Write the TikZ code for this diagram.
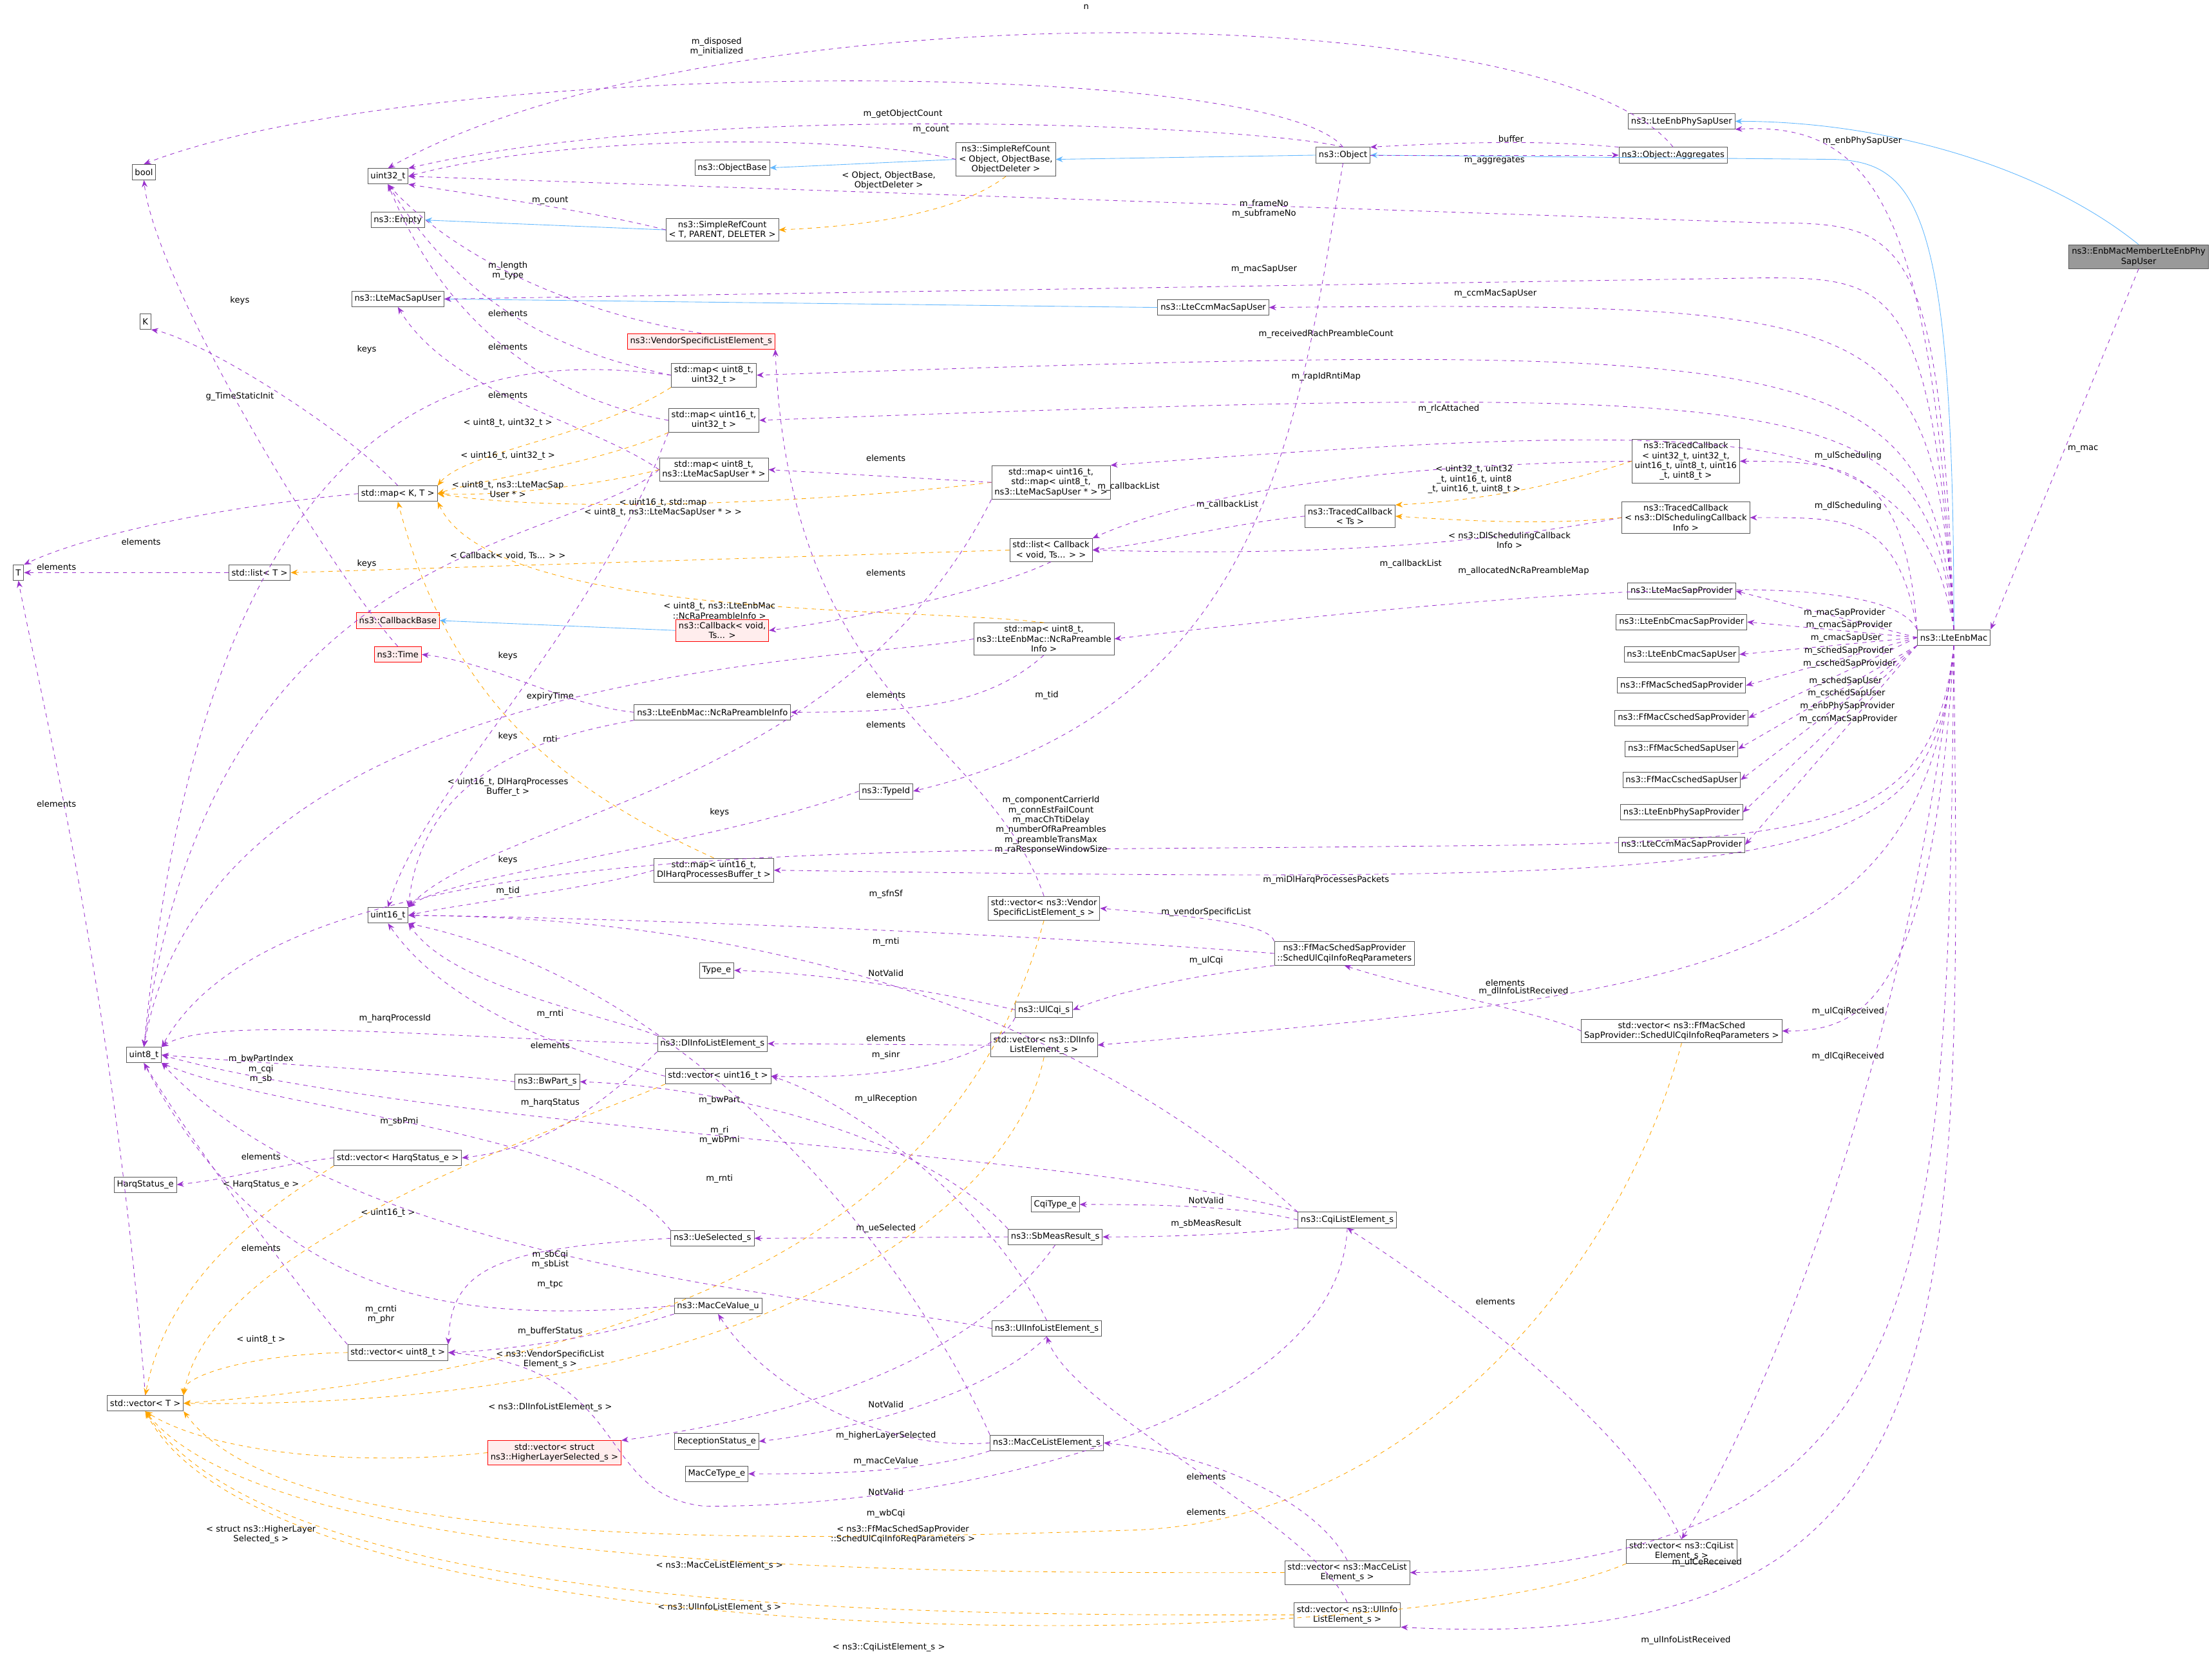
\documentclass[tikz,border=0pt]{standalone}
\usepackage{fontspec}
\setmainfont{DejaVu Sans}
\usetikzlibrary{arrows.meta}
\definecolor{pur}{HTML}{9A32CD}
\definecolor{org}{HTML}{FFA500}
\definecolor{blu}{HTML}{63B8FF}
\tikzset{
 box/.style={draw=black!65,fill=white,font=\fontsize{6}{7}\selectfont,align=center,inner sep=2pt,minimum height=11pt},
 redbox/.style={box,draw=red,fill=red!7},
 greybox/.style={box,fill=black!40},
 lbl/.style={font=\fontsize{6}{7}\selectfont,align=center,inner sep=0pt},
 pe/.style={draw=pur,dashed,-{Stealth[length=5pt,width=4pt]}},
 oe/.style={draw=org,dashed,-{Stealth[length=5pt,width=4pt]}},
 be/.style={draw=blu,-{Stealth[length=5pt,width=4pt]}},
}
\begin{document}
\begin{tikzpicture}[x=1pt,y=-1pt]
\useasboundingbox (0,0) rectangle (1568,1184);
% nodes
\node[greybox] (mem) at (1516,182) {ns3::EnbMacMemberLteEnbPhy\\SapUser};
\node[box] (mac) at (1385,452) {ns3::LteEnbMac};
\node[box] (physu) at (1192,86) {ns3::LteEnbPhySapUser};
\node[box] (obj) at (952,110) {ns3::Object};
\node[box] (agg) at (1186,110) {ns3::Object::Aggregates};
\node[box] (src) at (713,113) {ns3::SimpleRefCount\\< Object, ObjectBase,\\ObjectDeleter >};
\node[box] (objb) at (519,119) {ns3::ObjectBase};
\node[box] (u32) at (275,125) {uint32\_t};
\node[box] (bool) at (102,122) {bool};
\node[box] (empty) at (282,156) {ns3::Empty};
\node[box] (srct) at (512,163) {ns3::SimpleRefCount\\< T, PARENT, DELETER >};
\node[box] (msu) at (282,212) {ns3::LteMacSapUser};
\node[box] (ccmsu) at (860,218) {ns3::LteCcmMacSapUser};
\node[box] (K) at (103,228) {K};
\node[redbox] (vsle) at (497,242) {ns3::VendorSpecificListElement\_s};
\node[box] (m832) at (506,266) {std::map< uint8\_t,\\uint32\_t >};
\node[box] (m1632) at (506,298) {std::map< uint16\_t,\\uint32\_t >};
\node[box] (m8sap) at (506,333) {std::map< uint8\_t,\\ns3::LteMacSapUser * >};
\node[box] (mkt) at (282,350) {std::map< K, T >};
\node[box] (m16map) at (745,342) {std::map< uint16\_t,\\std::map< uint8\_t,\\ns3::LteMacSapUser * > >};
\node[box] (tcu) at (1195,327) {ns3::TracedCallback\\< uint32\_t, uint32\_t,\\uint16\_t, uint8\_t, uint16\\\_t, uint8\_t >};
\node[box] (tcts) at (957,366) {ns3::TracedCallback\\< Ts >};
\node[box] (tcdl) at (1195,367) {ns3::TracedCallback\\< ns3::DlSchedulingCallback\\Info >};
\node[box] (lcb) at (745,390) {std::list< Callback\\< void, Ts... > >};
\node[box] (T) at (13,406) {T};
\node[box] (lt) at (184,406) {std::list< T >};
\node[redbox] (cbb) at (282,440) {ns3::CallbackBase};
\node[redbox] (cbv) at (512,447) {ns3::Callback< void,\\Ts... >};
\node[box] (mnc) at (740,453) {std::map< uint8\_t,\\ns3::LteEnbMac::NcRaPreamble\\Info >};
\node[redbox] (time) at (282,464) {ns3::Time};
\node[box] (ncinfo) at (505,505) {ns3::LteEnbMac::NcRaPreambleInfo};
\node[box] (tid) at (628,561) {ns3::TypeId};
\node[box] (mharq) at (506,617) {std::map< uint16\_t,\\DlHarqProcessesBuffer\_t >};
\node[box] (u16) at (275,649) {uint16\_t};
\node[box] (vvs) at (740,644) {std::vector< ns3::Vendor\\SpecificListElement\_s >};
\node[box] (sucqi) at (953,676) {ns3::FfMacSchedSapProvider\\::SchedUlCqiInfoReqParameters};
\node[box] (type) at (508,688) {Type\_e};
\node[box] (ulcqi) at (740,716) {ns3::UlCqi\_s};
\node[box] (dlinfo) at (505,740) {ns3::DlInfoListElement\_s};
\node[box] (vdl) at (740,741) {std::vector< ns3::DlInfo\\ListElement\_s >};
\node[box] (u8) at (102,748) {uint8\_t};
\node[box] (v16) at (509,763) {std::vector< uint16\_t >};
\node[box] (bw) at (388,767) {ns3::BwPart\_s};
\node[box] (vharq) at (282,821) {std::vector< HarqStatus\_e >};
\node[box] (harq) at (103,840) {HarqStatus\_e};
\node[box] (cqit) at (748,854) {CqiType\_e};
\node[box] (cqil) at (955,865) {ns3::CqiListElement\_s};
\node[box] (sbm) at (748,877) {ns3::SbMeasResult\_s};
\node[box] (ues) at (505,878) {ns3::UeSelected\_s};
\node[box] (mcv) at (509,926) {ns3::MacCeValue\_u};
\node[box] (uil) at (742,942) {ns3::UlInfoListElement\_s};
\node[box] (v8) at (282,959) {std::vector< uint8\_t >};
\node[box] (vt) at (103,995) {std::vector< T >};
\node[box] (rst) at (508,1022) {ReceptionStatus\_e};
\node[redbox] (vhl) at (393,1030) {std::vector< struct\\ns3::HigherLayerSelected\_s >};
\node[box] (mcl) at (742,1023) {ns3::MacCeListElement\_s};
\node[box] (mct) at (508,1045) {MacCeType\_e};
\node[box] (vcqi) at (1192,1100) {std::vector< ns3::CqiList\\Element\_s >};
\node[box] (vmcl) at (955,1115) {std::vector< ns3::MacCeList\\Element\_s >};
\node[box] (vuil) at (955,1145) {std::vector< ns3::UlInfo\\ListElement\_s >};
\node[box] (vsu) at (1192,731) {std::vector< ns3::FfMacSched\\SapProvider::SchedUlCqiInfoReqParameters >};
\node[box] (p1) at (1192,419) {ns3::LteMacSapProvider};
\node[box] (p2) at (1192,441) {ns3::LteEnbCmacSapProvider};
\node[box] (p3) at (1192,464) {ns3::LteEnbCmacSapUser};
\node[box] (p4) at (1192,486) {ns3::FfMacSchedSapProvider};
\node[box] (p5) at (1192,509) {ns3::FfMacCschedSapProvider};
\node[box] (p6) at (1192,531) {ns3::FfMacSchedSapUser};
\node[box] (p7) at (1192,553) {ns3::FfMacCschedSapUser};
\node[box] (p8) at (1192,576) {ns3::LteEnbPhySapProvider};
\node[box] (p9) at (1192,599) {ns3::LteCcmMacSapProvider};

% blue inheritance
\draw[be] (mem.north) .. controls (1450,120) and (1340,86) .. (physu.east);
\draw[be] (mac.north) .. controls (1385,150) and (1360,115) .. (1300,113) -- (obj.east);
\draw[be] (obj.west) -- (src.east);
\draw[be] (src.west) -- (objb.east);
\draw[be] (srct.west) -- (empty.east);
\draw[be] (ccmsu.west) -- (msu.east);
\draw[be] (cbv.west) -- (cbb.east);

% mac purple edges
\draw[pe] (mem.south) -- node[lbl,pos=0.5,right=2pt]{m\_mac} (mac.north east);
\draw[pe] (mac.north) .. controls (1370,150) and (1330,86) .. (physu.south east);
\node[lbl] at (1320,100) {m\_enbPhySapUser};
\draw[pe] (mac.north) .. controls (1375,160) and (1350,158) .. (1250,158) -- (u32.east);
\node[lbl] at (896,148) {m\_frameNo\\m\_subframeNo};
\draw[pe] (mac.north) .. controls (1370,200) and (1340,197) .. (1250,197) -- (msu.east);
\node[lbl] at (896,191) {m\_macSapUser};
\draw[pe] (mac.north) .. controls (1370,220) and (1340,214) .. (ccmsu.east);
\node[lbl] at (1060,208) {m\_ccmMacSapUser};
\draw[pe] (mac.north) .. controls (1368,245) and (1300,240) .. (m832.east);
\node[lbl] at (940,237) {m\_receivedRachPreambleCount};
\draw[pe] (mac.north) .. controls (1365,275) and (1300,270) .. (m1632.east);
\node[lbl] at (940,267) {m\_rapIdRntiMap};
\draw[pe] (mac.north) .. controls (1360,300) and (1250,295) .. (m16map.north east);
\node[lbl] at (1027,290) {m\_rlcAttached};
\draw[pe] (mac.north west) .. controls (1350,330) and (1310,327) .. (tcu.east);
\node[lbl] at (1310,323) {m\_ulScheduling};
\draw[pe] (mac.north west) .. controls (1345,365) and (1310,367) .. (tcdl.east);
\node[lbl] at (1310,359) {m\_dlScheduling};
\draw[pe] (mac.north west) .. controls (1340,410) and (1200,405) .. (mnc.east);
\node[lbl] at (1080,405) {m\_allocatedNcRaPreambleMap};
\draw[pe] (mac.west) -- node[lbl,pos=0.4,above=1pt]{m\_macSapProvider} (p1.east);
\draw[pe] (mac.west) -- node[lbl,pos=0.4,above=1pt]{m\_cmacSapProvider} (p2.east);
\draw[pe] (mac.west) -- node[lbl,pos=0.4,above=1pt]{m\_cmacSapUser} (p3.east);
\draw[pe] (mac.west) -- node[lbl,pos=0.4,above=1pt]{m\_schedSapProvider} (p4.east);
\draw[pe] (mac.west) -- node[lbl,pos=0.4,above=1pt]{m\_cschedSapProvider} (p5.east);
\draw[pe] (mac.south west) -- node[lbl,pos=0.4,above=1pt]{m\_schedSapUser} (p6.east);
\draw[pe] (mac.south west) -- node[lbl,pos=0.4,above=1pt]{m\_cschedSapUser} (p7.east);
\draw[pe] (mac.south west) -- node[lbl,pos=0.4,above=1pt]{m\_enbPhySapProvider} (p8.east);
\draw[pe] (mac.south west) -- node[lbl,pos=0.4,above=1pt]{m\_ccmMacSapProvider} (p9.east);
\draw[pe] (mac.south) .. controls (1370,590) and (1300,598) .. (1000,600) .. controls (600,605) and (200,590) .. (u8.north east);
\node[lbl] at (745,585) {m\_componentCarrierId\\m\_connEstFailCount\\m\_macChTtiDelay\\m\_numberOfRaPreambles\\m\_preambleTransMax\\m\_raResponseWindowSize};
\draw[pe] (mac.south) .. controls (1370,620) and (1300,628) .. (mharq.east);
\node[lbl] at (940,624) {m\_miDlHarqProcessesPackets};
\draw[pe] (mac.south) .. controls (1365,690) and (1200,705) .. (vdl.east);
\node[lbl] at (1080,703) {m\_dlInfoListReceived};
\draw[pe] (mac.south) .. controls (1370,710) and (1320,731) .. (vsu.east);
\node[lbl] at (1310,717) {m\_ulCqiReceived};
\draw[pe] (mac.south) .. controls (1350,760) and (1250,1000) .. (vcqi.north);
\node[lbl] at (1310,749) {m\_dlCqiReceived};
\draw[pe] (mac.south) .. controls (1380,900) and (1380,1110) .. (vmcl.east);
\node[lbl] at (1210,1108) {m\_ulCeReceived};
\draw[pe] (mac.south) .. controls (1390,950) and (1400,1175) .. (vuil.south east);
\node[lbl] at (1195,1163) {m\_ulInfoListReceived};

% Object related
\draw[pe] (obj.north) .. controls (900,90) and (500,70) .. (u32.north east);
\node[lbl] at (640,81) {m\_getObjectCount};
\draw[pe] (src.west) .. controls (600,95) and (400,95) .. (u32.east);
\node[lbl] at (660,92) {m\_count};
\draw[pe] (srct.west) .. controls (420,150) and (350,140) .. (u32.south east);
\node[lbl] at (390,142) {m\_count};
\draw[oe] (src.south) .. controls (680,150) and (620,160) .. (srct.east);
\node[lbl] at (630,128) {< Object, ObjectBase,\\ObjectDeleter >};
\draw[pe] (obj.north) .. controls (900,40) and (300,40) .. (bool.north);
\node[lbl] at (508,33) {m\_disposed\\m\_initialized};
\draw[pe] (agg.north) .. controls (1100,-4) and (500,-8) .. (u32.north);
\node[lbl] at (770,5) {n};
\draw[pe] (obj.east) -- node[lbl,below=1pt]{m\_aggregates} (agg.west);
\draw[pe] (agg.north west) .. controls (1100,100) and (1050,100) .. node[lbl,above=0pt]{buffer} (obj.north east);
\draw[pe] (obj.south) .. controls (920,300) and (900,500) .. (tid.east);
\node[lbl] at (742,493) {m\_tid};
\draw[pe] (vsle.north) .. controls (400,220) and (320,180) .. (u32.south);
\node[lbl] at (360,192) {m\_length\\m\_type};

% maps
\draw[pe] (m832.west) .. controls (400,250) and (330,220) .. (u32.south);
\node[lbl] at (360,222) {elements};
\draw[pe] (m1632.west) .. controls (400,285) and (320,240) .. (u32.south);
\node[lbl] at (360,246) {elements};
\draw[pe] (m8sap.west) .. controls (420,300) and (320,280) .. (msu.south);
\node[lbl] at (360,280) {elements};
\draw[pe] (m832.west) .. controls (350,250) and (150,260) .. (u8.north);
\node[lbl] at (260,248) {keys};
\draw[pe] (m8sap.west) .. controls (400,390) and (150,380) .. (u8.north);
\node[lbl] at (260,400) {keys};
\draw[pe] (m1632.south west) .. controls (420,450) and (300,560) .. (u16.north);
\node[lbl] at (360,522) {keys};
\draw[oe] (m832.south west) .. controls (420,310) and (330,320) .. (mkt.north east);
\node[lbl] at (360,300) {< uint8\_t, uint32\_t >};
\draw[oe] (m1632.south west) .. controls (420,330) and (340,340) .. (mkt.east);
\node[lbl] at (360,323) {< uint16\_t, uint32\_t >};
\draw[oe] (m8sap.west) .. controls (420,345) and (350,352) .. (mkt.east);
\node[lbl] at (360,347) {< uint8\_t, ns3::LteMacSap\\User * >};
\draw[oe] (m16map.west) .. controls (600,355) and (400,365) .. (mkt.east);
\node[lbl] at (470,360) {< uint16\_t, std::map\\< uint8\_t, ns3::LteMacSapUser * > >};
\draw[oe] (mnc.north) .. controls (650,430) and (350,440) .. (mkt.south east);
\node[lbl] at (510,433) {< uint8\_t, ns3::LteEnbMac\\::NcRaPreambleInfo >};
\draw[oe] (mharq.north) .. controls (400,560) and (320,500) .. (mkt.south);
\node[lbl] at (360,558) {< uint16\_t, DlHarqProcesses\\Buffer\_t >};
\draw[pe] (mkt.north) .. controls (240,300) and (140,240) .. (K.south east);
\node[lbl] at (170,213) {keys};
\draw[pe] (mkt.west) .. controls (150,360) and (60,380) .. (T.north east);
\node[lbl] at (100,384) {elements};
\draw[pe] (lt.west) -- (T.east);
\node[lbl] at (40,402) {elements};
\draw[pe] (vt.north) .. controls (80,700) and (30,500) .. (T.south);
\node[lbl] at (40,570) {elements};
\draw[pe] (m16map.west) -- (m8sap.east);
\node[lbl] at (628,325) {elements};
\draw[pe] (m16map.south west) .. controls (600,560) and (350,580) .. (u16.north east);
\node[lbl] at (510,576) {keys};
\draw[oe] (lcb.west) -- (lt.east);
\node[lbl] at (360,394) {< Callback< void, Ts... > >};
\draw[pe] (lcb.south) .. controls (700,420) and (600,440) .. (cbv.east);
\node[lbl] at (628,406) {elements};
\draw[pe] (tcts.west) .. controls (880,370) and (820,385) .. (lcb.east);
\node[lbl] at (870,358) {m\_callbackList};
\draw[pe] (tcu.west) .. controls (900,330) and (800,370) .. (lcb.north east);
\node[lbl] at (800,345) {m\_callbackList};
\draw[pe] (tcdl.west) .. controls (1000,395) and (850,392) .. (lcb.east);
\node[lbl] at (1000,400) {m\_callbackList};
\draw[oe] (tcu.west) .. controls (1100,345) and (1050,355) .. (tcts.north east);
\node[lbl] at (1045,340) {< uint32\_t, uint32\\\_t, uint16\_t, uint8\\\_t, uint16\_t, uint8\_t >};
\draw[oe] (tcdl.west) .. controls (1100,372) and (1050,370) .. (tcts.east);
\node[lbl] at (1070,383) {< ns3::DlSchedulingCallback\\Info >};
\draw[pe] (time.north) .. controls (230,400) and (110,200) .. (bool.south);
\node[lbl] at (170,281) {g\_TimeStaticInit};
\draw[pe] (ncinfo.west) .. controls (400,500) and (350,470) .. (time.east);
\node[lbl] at (390,494) {expiryTime};
\draw[pe] (ncinfo.south west) .. controls (400,520) and (300,540) .. (u16.north east);
\node[lbl] at (390,524) {rnti};
\draw[pe] (mnc.south) .. controls (700,500) and (650,505) .. (ncinfo.east);
\node[lbl] at (628,493) {elements};
\draw[pe] (mnc.west) .. controls (600,470) and (150,470) .. (u8.north);
\node[lbl] at (360,465) {keys};
\draw[pe] (vvs.north) .. controls (700,520) and (560,500) .. (vsle.south east);
\node[lbl] at (628,514) {elements};
\draw[pe] (tid.west) .. controls (500,600) and (320,620) .. (u16.north east);
\node[lbl] at (360,632) {m\_tid};
\draw[pe] (mharq.west) .. controls (420,630) and (330,640) .. (u16.east);
\node[lbl] at (360,610) {keys};

% middle
\draw[oe] (vvs.south) .. controls (700,800) and (580,960) .. (vt.east);
\node[lbl] at (390,964) {< ns3::VendorSpecificList\\Element\_s >};
\draw[pe] (sucqi.north west) .. controls (900,655) and (850,650) .. (vvs.east);
\node[lbl] at (855,647) {m\_vendorSpecificList};
\draw[pe] (sucqi.west) .. controls (700,660) and (400,650) .. (u16.east);
\node[lbl] at (628,634) {m\_sfnSf};
\draw[pe] (sucqi.south west) .. controls (860,690) and (800,700) .. (ulcqi.east);
\node[lbl] at (855,681) {m\_ulCqi};
\draw[pe] (vsu.west) .. controls (1100,720) and (1000,700) .. (sucqi.south);
\node[lbl] at (1067,697) {elements};
\draw[oe] (vsu.south) .. controls (1150,900) and (1000,1080) .. (800,1085) .. controls (500,1095) and (200,1095) .. (vt.south east);
\node[lbl] at (640,1088) {< ns3::FfMacSchedSapProvider\\::SchedUlCqiInfoReqParameters >};
\draw[pe] (ulcqi.west) .. controls (650,700) and (580,690) .. (type.east);
\node[lbl] at (628,690) {NotValid};
\draw[pe] (ulcqi.south west) .. controls (700,760) and (600,765) .. (v16.east);
\node[lbl] at (628,748) {m\_sinr};
\draw[pe] (cqil.north west) .. controls (700,660) and (400,650) .. (u16.east);
\node[lbl] at (628,668) {m\_rnti};
\draw[pe] (vdl.west) -- (dlinfo.east);
\node[lbl] at (628,736) {elements};
\draw[oe] (vdl.south) .. controls (720,850) and (550,1000) .. (vt.east);
\node[lbl] at (390,998) {< ns3::DlInfoListElement\_s >};
\draw[pe] (dlinfo.north west) .. controls (430,720) and (320,700) .. (u16.south east);
\node[lbl] at (390,719) {m\_rnti};
\draw[pe] (dlinfo.west) .. controls (300,735) and (150,720) .. (u8.north east);
\node[lbl] at (280,722) {m\_harqProcessId};
\draw[pe] (v16.west) .. controls (420,750) and (320,720) .. (u16.south);
\node[lbl] at (390,741) {elements};
\draw[pe] (dlinfo.south west) .. controls (420,790) and (380,815) .. (vharq.east);
\node[lbl] at (390,782) {m\_harqStatus};
\draw[oe] (v16.south west) .. controls (400,800) and (150,880) .. (vt.north east);
\node[lbl] at (275,860) {< uint16\_t >};
\draw[pe] (bw.west) .. controls (300,760) and (200,755) .. (u8.east);
\node[lbl] at (185,758) {m\_bwPartIndex\\m\_cqi\\m\_sb};
\draw[pe] (sbm.north west) .. controls (650,800) and (500,770) .. (bw.east);
\node[lbl] at (510,780) {m\_bwPart};
\draw[pe] (uil.north) .. controls (700,850) and (600,780) .. (v16.east);
\node[lbl] at (628,779) {m\_ulReception};
\draw[pe] (cqil.north west) .. controls (800,820) and (300,800) .. (u8.east);
\node[lbl] at (510,805) {m\_ri\\m\_wbPmi};
\draw[pe] (cqil.west) .. controls (880,855) and (820,854) .. (cqit.east);
\node[lbl] at (855,851) {NotValid};
\draw[pe] (cqil.south west) .. controls (880,875) and (830,877) .. (sbm.east);
\node[lbl] at (855,868) {m\_sbMeasResult};
\draw[pe] (ues.north west) .. controls (420,800) and (200,790) .. (u8.south east);
\node[lbl] at (283,795) {m\_sbPmi};
\draw[pe] (vharq.west) .. controls (200,825) and (170,835) .. (harq.east);
\node[lbl] at (185,820) {elements};
\draw[oe] (vharq.south west) .. controls (200,850) and (120,900) .. (vt.north);
\node[lbl] at (185,840) {< HarqStatus\_e >};
\draw[pe] (mcl.north west) .. controls (650,900) and (500,700) .. (u16.south east);
\node[lbl] at (510,836) {m\_rnti};
\draw[pe] (sbm.west) -- (ues.east);
\node[lbl] at (628,871) {m\_ueSelected};
\draw[pe] (ues.west) .. controls (350,885) and (320,900) .. (v8.north east);
\node[lbl] at (390,893) {m\_sbCqi\\m\_sbList};
\draw[pe] (uil.west) .. controls (600,920) and (250,900) .. (u8.south east);
\node[lbl] at (390,911) {m\_tpc};
\draw[pe] (mcv.west) .. controls (350,935) and (200,940) .. (u8.south);
\node[lbl] at (270,932) {m\_crnti\\m\_phr};
\draw[pe] (mcv.south west) .. controls (420,950) and (350,958) .. (v8.east);
\node[lbl] at (390,944) {m\_bufferStatus};
\draw[pe] (v8.north west) .. controls (200,900) and (130,800) .. (u8.south);
\node[lbl] at (185,885) {elements};
\draw[oe] (v8.west) .. controls (180,960) and (130,975) .. (vt.north east);
\node[lbl] at (185,950) {< uint8\_t >};
\draw[pe] (uil.south) .. controls (700,990) and (600,1015) .. (rst.east);
\node[lbl] at (628,996) {NotValid};
\draw[pe] (sbm.south) .. controls (700,950) and (600,1000) .. (vhl.north east);
\node[lbl] at (628,1018) {m\_higherLayerSelected};
\draw[oe] (vhl.west) .. controls (250,1040) and (150,1030) .. (vt.south);
\node[lbl] at (185,1088) {< struct ns3::HigherLayer\\Selected\_s >};
\draw[pe] (mcl.west) .. controls (620,1030) and (540,980) .. (mcv.south);
\node[lbl] at (628,1036) {m\_macCeValue};
\draw[pe] (mcl.south west) .. controls (650,1045) and (580,1045) .. (mct.east);
\node[lbl] at (628,1058) {NotValid};
\draw[pe] (cqil.south) .. controls (950,1000) and (700,1068) .. (500,1068) .. controls (420,1060) and (450,970) .. (v8.east);
\node[lbl] at (628,1073) {m\_wbCqi};
\draw[pe] (vmcl.north) .. controls (930,1060) and (850,1030) .. (mcl.east);
\node[lbl] at (855,1047) {elements};
\draw[pe] (vuil.north) .. controls (930,1080) and (760,1000) .. (uil.south);
\node[lbl] at (855,1072) {elements};
\draw[pe] (vcqi.north) .. controls (1150,1000) and (1000,900) .. (cqil.south);
\node[lbl] at (1060,923) {elements};
\draw[oe] (vmcl.west) .. controls (700,1115) and (200,1120) .. (vt.south);
\node[lbl] at (510,1110) {< ns3::MacCeListElement\_s >};
\draw[oe] (vuil.west) .. controls (700,1145) and (200,1150) .. (vt.south);
\node[lbl] at (510,1140) {< ns3::UlInfoListElement\_s >};
\draw[oe] (vcqi.south west) .. controls (1000,1175) and (200,1185) .. (vt.south);
\node[lbl] at (630,1168) {< ns3::CqiListElement\_s >};
\end{tikzpicture}
\end{document}
